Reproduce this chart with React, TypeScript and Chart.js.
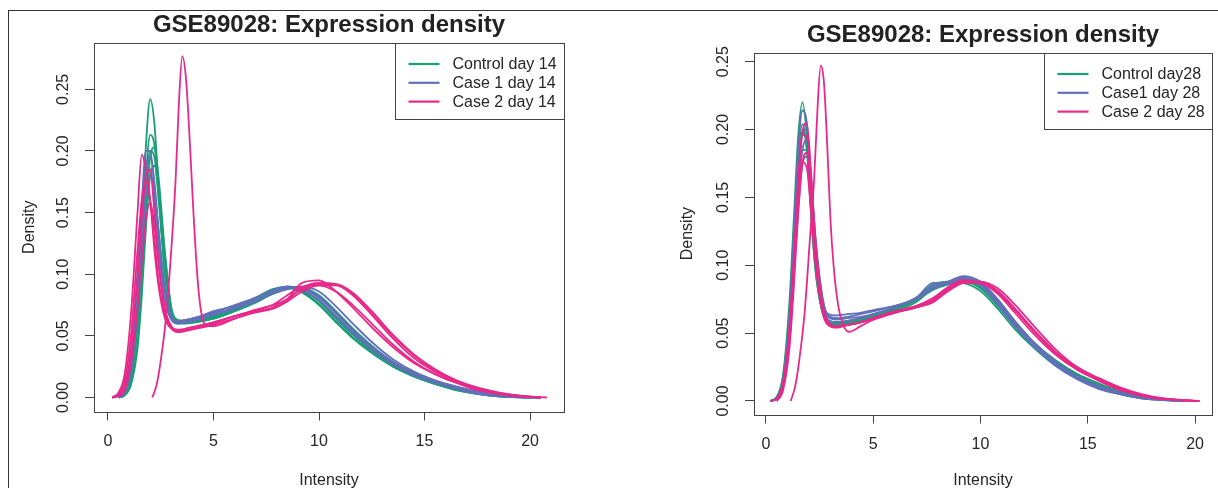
import React, { useEffect, useRef } from "react";
import { Chart, registerables } from "chart.js";

Chart.register(...registerables);

// ---------- text ----------
const TITLE = "GSE89028: Expression density";
const X_LABEL = "Intensity";
const Y_LABEL = "Density";
const LEGEND_14 = ["Control day 14", "Case 1 day 14", "Case 2 day 14"];
const LEGEND_28 = ["Control day28", "Case1 day 28", "Case 2 day 28"];

// ---------- ticks ----------
const X_TICKS = [0, 5, 10, 15, 20];
const Y_TICKS_14 = [0, 0.05, 0.1, 0.15, 0.2, 0.25];
const Y_TICKS_28 = [0, 0.05, 0.1, 0.15, 0.2, 0.25];

// ---------- group colours (Control, Case 1, Case 2) ----------
const COLORS = ["#1b9e77", "#6170b8", "#e7298a"];

// ---------- day 14 density curves (sampled at GRID_14) ----------
const GRID_14 = [0.2, 0.5, 0.8, 1.1, 1.4, 1.6, 1.8, 2.0, 2.2, 2.4, 2.7, 3.0, 3.3, 3.7, 4.2, 5.0, 6.0, 7.0, 7.8, 8.5, 9.2, 10.0, 10.8, 11.6, 12.5, 13.5, 14.5, 15.5, 16.5, 17.5, 18.5, 19.5, 20.5];

const CONTROL_14 = [
  [null, 0, 0.004, 0.022, 0.075, 0.135, 0.205, 0.242, 0.222, 0.170, 0.100, 0.066, 0.061, 0.061, 0.063, 0.066, 0.072, 0.079, 0.086, 0.089, 0.085, 0.075, 0.061, 0.048, 0.036, 0.025, 0.017, 0.011, 0.006, 0.003, 0.001, 0.0002, 0],
  [null, 0, 0.003, 0.018, 0.062, 0.115, 0.180, 0.213, 0.205, 0.168, 0.105, 0.068, 0.061, 0.061, 0.062, 0.065, 0.071, 0.078, 0.085, 0.089, 0.087, 0.078, 0.064, 0.051, 0.038, 0.027, 0.018, 0.012, 0.007, 0.0035, 0.0012, 0.0003, 0],
  [null, 0, 0.002, 0.012, 0.045, 0.090, 0.150, 0.195, 0.203, 0.178, 0.118, 0.072, 0.062, 0.062, 0.063, 0.066, 0.073, 0.081, 0.088, 0.090, 0.086, 0.076, 0.062, 0.049, 0.037, 0.026, 0.017, 0.011, 0.006, 0.003, 0.001, 0.0002, 0],
  [null, 0, 0.002, 0.011, 0.040, 0.082, 0.138, 0.180, 0.188, 0.168, 0.115, 0.073, 0.063, 0.062, 0.062, 0.064, 0.070, 0.077, 0.084, 0.088, 0.089, 0.083, 0.070, 0.056, 0.042, 0.029, 0.020, 0.013, 0.008, 0.004, 0.0015, 0.0004, 0],
  [null, 0, 0.003, 0.016, 0.058, 0.108, 0.170, 0.200, 0.195, 0.160, 0.100, 0.066, 0.060, 0.060, 0.061, 0.064, 0.070, 0.078, 0.086, 0.090, 0.087, 0.079, 0.066, 0.053, 0.040, 0.028, 0.019, 0.013, 0.008, 0.004, 0.0015, 0.0004, 0],
];

const CASE1_14 = [
  [0, 0.002, 0.008, 0.035, 0.100, 0.158, 0.200, 0.200, 0.170, 0.128, 0.080, 0.064, 0.062, 0.063, 0.065, 0.069, 0.075, 0.081, 0.087, 0.090, 0.087, 0.079, 0.065, 0.052, 0.039, 0.027, 0.018, 0.012, 0.007, 0.003, 0.001, 0.0002, 0],
  [0, 0.001, 0.006, 0.028, 0.085, 0.140, 0.185, 0.195, 0.175, 0.135, 0.085, 0.065, 0.062, 0.062, 0.064, 0.068, 0.073, 0.080, 0.087, 0.090, 0.089, 0.082, 0.069, 0.055, 0.041, 0.029, 0.019, 0.013, 0.008, 0.004, 0.0015, 0.0003, 0],
  [0, 0.002, 0.007, 0.032, 0.092, 0.145, 0.185, 0.185, 0.160, 0.122, 0.080, 0.063, 0.060, 0.061, 0.063, 0.067, 0.072, 0.078, 0.084, 0.088, 0.090, 0.086, 0.074, 0.060, 0.045, 0.031, 0.021, 0.014, 0.009, 0.005, 0.002, 0.0005, 0],
  [null, 0, 0.004, 0.022, 0.070, 0.120, 0.165, 0.180, 0.168, 0.135, 0.088, 0.066, 0.062, 0.063, 0.065, 0.070, 0.074, 0.080, 0.086, 0.089, 0.088, 0.081, 0.068, 0.054, 0.041, 0.028, 0.019, 0.013, 0.008, 0.004, 0.0015, 0.0003, 0],
];

const CASE2_14 = [
  [0, 0.004, 0.020, 0.070, 0.150, 0.197, 0.185, 0.160, 0.120, 0.090, 0.064, 0.056, 0.054, 0.055, 0.057, 0.061, 0.066, 0.071, 0.075, 0.080, 0.093, 0.095, 0.086, 0.073, 0.057, 0.041, 0.028, 0.019, 0.012, 0.007, 0.003, 0.001, 0],
  [0, 0.002, 0.010, 0.040, 0.100, 0.145, 0.180, 0.184, 0.150, 0.110, 0.070, 0.057, 0.054, 0.055, 0.056, 0.059, 0.064, 0.069, 0.072, 0.078, 0.086, 0.091, 0.091, 0.083, 0.067, 0.048, 0.032, 0.021, 0.013, 0.007, 0.003, 0.001, 0],
  [null, 0, 0.006, 0.028, 0.072, 0.110, 0.145, 0.158, 0.140, 0.108, 0.072, 0.058, 0.055, 0.056, 0.058, 0.061, 0.066, 0.070, 0.073, 0.080, 0.088, 0.092, 0.092, 0.085, 0.070, 0.051, 0.035, 0.023, 0.014, 0.008, 0.004, 0.0015, 0],
  [0, 0.003, 0.014, 0.052, 0.120, 0.160, 0.175, 0.160, 0.128, 0.095, 0.066, 0.056, 0.053, 0.054, 0.056, 0.060, 0.066, 0.071, 0.075, 0.083, 0.090, 0.091, 0.086, 0.075, 0.060, 0.043, 0.029, 0.019, 0.012, 0.006, 0.003, 0.001, 0],
];

// the shifted Case 2 sample of day 14
const CASE2_14_SHIFTED_X = [2.1, 2.3, 2.5, 2.75, 3.0, 3.2, 3.35, 3.52, 3.7, 3.9, 4.05, 4.25, 4.45, 4.7, 5.0, 6.0, 7.0, 7.8, 8.5, 9.2, 10.0, 10.8, 11.6, 12.5, 13.5, 14.5, 15.5, 16.5, 17.5, 18.5, 19.5, 20.5, 20.8];
const CASE2_14_SHIFTED_Y = [0, 0.01, 0.03, 0.065, 0.12, 0.175, 0.235, 0.277, 0.258, 0.2, 0.15, 0.095, 0.066, 0.058, 0.058, 0.064, 0.070, 0.072, 0.079, 0.089, 0.093, 0.092, 0.084, 0.068, 0.050, 0.034, 0.022, 0.014, 0.008, 0.004, 0.0015, 0.0003, 0];

// ---------- day 28 density curves (sampled at GRID_28) ----------
const GRID_28 = [0.2, 0.5, 0.8, 1.1, 1.3, 1.5, 1.7, 1.9, 2.1, 2.3, 2.6, 2.9, 3.3, 3.8, 4.4, 5.0, 6.0, 7.0, 7.8, 8.5, 9.2, 10.0, 10.8, 11.6, 12.5, 13.5, 14.5, 15.5, 16.5, 17.5, 18.5, 19.5, 20.2];

const CONTROL_28 = [
  [0, 0.003, 0.020, 0.075, 0.135, 0.195, 0.220, 0.195, 0.140, 0.098, 0.068, 0.058, 0.057, 0.058, 0.059, 0.061, 0.066, 0.073, 0.083, 0.087, 0.088, 0.083, 0.070, 0.055, 0.040, 0.027, 0.018, 0.011, 0.006, 0.003, 0.001, 0, null],
  [0, 0.002, 0.015, 0.060, 0.115, 0.170, 0.198, 0.188, 0.145, 0.102, 0.068, 0.058, 0.057, 0.058, 0.060, 0.062, 0.067, 0.074, 0.082, 0.086, 0.088, 0.084, 0.072, 0.057, 0.042, 0.029, 0.019, 0.012, 0.007, 0.003, 0.001, 0, null],
  [0, 0.002, 0.012, 0.050, 0.100, 0.155, 0.185, 0.185, 0.148, 0.105, 0.070, 0.059, 0.058, 0.059, 0.061, 0.063, 0.068, 0.075, 0.083, 0.088, 0.089, 0.085, 0.073, 0.058, 0.043, 0.030, 0.020, 0.013, 0.007, 0.003, 0.001, 0, null],
  [0, 0.003, 0.018, 0.068, 0.125, 0.180, 0.204, 0.185, 0.138, 0.097, 0.067, 0.057, 0.056, 0.057, 0.059, 0.062, 0.068, 0.076, 0.086, 0.088, 0.087, 0.081, 0.068, 0.053, 0.039, 0.026, 0.017, 0.010, 0.005, 0.002, 0.0007, 0, null],
];

const CASE1_28 = [
  [0, 0.002, 0.016, 0.065, 0.125, 0.185, 0.214, 0.205, 0.160, 0.115, 0.075, 0.064, 0.063, 0.064, 0.065, 0.067, 0.070, 0.076, 0.087, 0.086, 0.091, 0.086, 0.072, 0.056, 0.040, 0.027, 0.017, 0.010, 0.005, 0.002, 0.0008, 0, null],
  [0, 0.002, 0.013, 0.055, 0.110, 0.165, 0.198, 0.200, 0.165, 0.120, 0.078, 0.063, 0.061, 0.062, 0.064, 0.066, 0.070, 0.075, 0.085, 0.088, 0.092, 0.088, 0.075, 0.059, 0.043, 0.029, 0.018, 0.011, 0.006, 0.0025, 0.001, 0, null],
  [null, 0, 0.010, 0.045, 0.095, 0.150, 0.185, 0.193, 0.165, 0.122, 0.080, 0.062, 0.060, 0.061, 0.062, 0.064, 0.069, 0.075, 0.083, 0.087, 0.091, 0.087, 0.074, 0.058, 0.042, 0.028, 0.018, 0.011, 0.006, 0.0025, 0.001, 0, null],
  [null, 0, 0.010, 0.045, 0.092, 0.140, 0.175, 0.180, 0.155, 0.115, 0.076, 0.060, 0.058, 0.059, 0.061, 0.064, 0.069, 0.076, 0.084, 0.087, 0.090, 0.085, 0.071, 0.055, 0.040, 0.026, 0.016, 0.009, 0.005, 0.002, 0.0008, 0, null],
];

const CASE2_28 = [
  [null, 0, 0.010, 0.048, 0.100, 0.160, 0.198, 0.205, 0.168, 0.120, 0.075, 0.058, 0.055, 0.056, 0.058, 0.061, 0.066, 0.070, 0.076, 0.084, 0.088, 0.087, 0.079, 0.065, 0.049, 0.034, 0.023, 0.015, 0.008, 0.004, 0.0015, 0.0005, 0],
  [null, 0, 0.012, 0.052, 0.105, 0.162, 0.196, 0.195, 0.158, 0.112, 0.071, 0.056, 0.054, 0.056, 0.058, 0.060, 0.065, 0.069, 0.074, 0.083, 0.088, 0.088, 0.081, 0.068, 0.052, 0.036, 0.024, 0.016, 0.009, 0.004, 0.002, 0.0005, 0],
  [null, 0, 0.008, 0.040, 0.085, 0.138, 0.175, 0.183, 0.155, 0.112, 0.072, 0.057, 0.055, 0.056, 0.058, 0.061, 0.066, 0.069, 0.073, 0.081, 0.087, 0.088, 0.083, 0.071, 0.055, 0.038, 0.025, 0.017, 0.010, 0.005, 0.002, 0.0007, 0],
  [0, 0.002, 0.014, 0.055, 0.105, 0.150, 0.176, 0.172, 0.140, 0.102, 0.068, 0.056, 0.055, 0.056, 0.058, 0.061, 0.066, 0.070, 0.075, 0.084, 0.089, 0.087, 0.080, 0.067, 0.051, 0.035, 0.024, 0.016, 0.009, 0.004, 0.0015, 0.0005, 0],
];

const CASE2_28_SHIFTED_X = [1.15, 1.35, 1.55, 1.8, 2.05, 2.25, 2.4, 2.55, 2.7, 2.85, 3.0, 3.15, 3.35, 3.6, 3.87, 4.4, 5.0, 6.0, 7.0, 7.8, 8.5, 9.2, 10.0, 10.8, 11.6, 12.5, 13.5, 14.5, 15.5, 16.5, 17.5, 18.5, 19.5, 20.2];
const CASE2_28_SHIFTED_Y = [0, 0.01, 0.03, 0.065, 0.12, 0.165, 0.215, 0.247, 0.235, 0.19, 0.135, 0.1, 0.072, 0.056, 0.051, 0.055, 0.060, 0.065, 0.069, 0.073, 0.082, 0.087, 0.087, 0.081, 0.068, 0.052, 0.036, 0.025, 0.016, 0.009, 0.004, 0.0015, 0.0005, 0];

// ---------- styling ----------
const FONT = "'Liberation Sans', Arial, Helvetica, sans-serif";
const TEXT = "#262626";
const AXIS = "#444444";

type Ys = (number | null)[];

function toPoints(xs: number[], ys: Ys) {
  const pts: { x: number; y: number }[] = [];
  xs.forEach((x, i) => {
    const y = ys[i];
    if (y !== null && y !== undefined) pts.push({ x, y });
  });
  return pts;
}

const boxPlugin = {
  id: "rbox",
  afterDraw(chart: any) {
    const { ctx, chartArea: a } = chart;
    ctx.save();
    ctx.strokeStyle = AXIS;
    ctx.lineWidth = 1;
    ctx.strokeRect(Math.round(a.left) + 0.5, Math.round(a.top) + 0.5, Math.round(a.right - a.left), Math.round(a.bottom - a.top));
    ctx.restore();
  },
};

const legendPlugin = {
  id: "rlegend",
  afterDraw(chart: any, _args: any, opts: any) {
    const { ctx, chartArea: a } = chart;
    const labels: string[] = opts.labels || [];
    ctx.save();
    ctx.font = `16px ${FONT}`;
    const maxW = Math.max(...labels.map((l) => ctx.measureText(l).width));
    const w = Math.round(maxW + 65);
    const h = 76;
    const left = Math.round(a.right) - w + 0.5;
    const top = Math.round(a.top) + 0.5;
    ctx.fillStyle = "#ffffff";
    ctx.fillRect(left, top, w, h);
    ctx.strokeStyle = AXIS;
    ctx.lineWidth = 1;
    ctx.strokeRect(left, top, w, h);
    labels.forEach((l, i) => {
      const y = top + 20.5 + i * 18.8;
      ctx.strokeStyle = COLORS[i];
      ctx.lineWidth = 2.2;
      ctx.beginPath();
      ctx.moveTo(left + 13, y);
      ctx.lineTo(left + 44, y);
      ctx.stroke();
      ctx.fillStyle = TEXT;
      ctx.textAlign = "left";
      ctx.textBaseline = "middle";
      ctx.fillText(l, left + 57, y + 0.5);
    });
    ctx.restore();
  },
};

type PanelCfg = {
  grid: number[];
  groups: Ys[][];
  shiftedX: number[];
  shiftedY: Ys;
  legend: string[];
  yTicks: number[];
  xMin: number; xMax: number; yMin: number; yMax: number;
  left: number; w: number; h: number;
  padRight: number; yAxisW: number; xAxisH: number;
  titleTop: number; titleBottom: number; yTitlePad: number;
};

const PANEL_14: PanelCfg = {
  grid: GRID_14,
  groups: [CONTROL_14, CASE1_14, CASE2_14],
  shiftedX: CASE2_14_SHIFTED_X,
  shiftedY: CASE2_14_SHIFTED_Y,
  legend: LEGEND_14,
  yTicks: Y_TICKS_14,
  xMin: -0.663, xMax: 21.61, yMin: -0.01136, yMax: 0.2876,
  left: 0, w: 609, h: 490,
  padRight: 45, yAxisW: 94, xAxisH: 78.5,
  titleTop: 10.6, titleBottom: 3.6, yTitlePad: 20.4,
};

const PANEL_28: PanelCfg = {
  grid: GRID_28,
  groups: [CONTROL_28, CASE1_28, CASE2_28],
  shiftedX: CASE2_28_SHIFTED_X,
  shiftedY: CASE2_28_SHIFTED_Y,
  legend: LEGEND_28,
  yTicks: Y_TICKS_28,
  xMin: -0.559, xMax: 20.79, yMin: -0.00995, yMax: 0.2566,
  left: 609, w: 609, h: 490,
  padRight: 6, yAxisW: 145, xAxisH: 75.5,
  titleTop: 20.6, titleBottom: 3.3, yTitlePad: 69.4,
};

function makeConfig(cfg: PanelCfg): any {
  const lineStyle = (color: string) => ({
    borderColor: color,
    backgroundColor: color,
    borderWidth: 1.8,
    pointRadius: 0,
    fill: false,
    cubicInterpolationMode: "monotone",
  });
  // Chart.js paints dataset 0 last (on top); R painted Control first, Case 2 last,
  // so the list is built Case 2 first.
  const datasets: any[] = [];
  datasets.push({ data: toPoints(cfg.shiftedX, cfg.shiftedY), ...lineStyle(COLORS[2]) });
  for (let g = cfg.groups.length - 1; g >= 0; g--) {
    const curves = cfg.groups[g];
    for (let c = curves.length - 1; c >= 0; c--) {
      datasets.push({ data: toPoints(cfg.grid, curves[c]), ...lineStyle(COLORS[g]) });
    }
  }

  const tickFont = { family: FONT, size: 16 };
  const gridOpts = {
    display: true,
    drawOnChartArea: false,
    drawTicks: true,
    tickLength: 9,
    color: AXIS,
    lineWidth: 1,
  };

  return {
    type: "line",
    data: { datasets },
    plugins: [boxPlugin, legendPlugin],
    options: {
      animation: false,
      responsive: false,
      events: [],
      layout: { padding: { left: 0, right: cfg.padRight, top: 0, bottom: 0 } },
      plugins: {
        legend: { display: false },
        tooltip: { enabled: false },
        title: {
          display: true,
          text: TITLE,
          fullSize: false,
          color: "#222222",
          font: { family: FONT, size: 24, weight: "bold", lineHeight: 1.2 },
          padding: { top: cfg.titleTop, bottom: cfg.titleBottom },
        },
        rlegend: { labels: cfg.legend },
      },
      scales: {
        x: {
          type: "linear",
          min: cfg.xMin,
          max: cfg.xMax,
          afterBuildTicks: (s: any) => { s.ticks = X_TICKS.map((v) => ({ value: v })); },
          afterFit: (s: any) => { s.height = cfg.xAxisH; },
          grid: gridOpts,
          border: { display: false },
          ticks: {
            autoSkip: false, maxRotation: 0, minRotation: 0, padding: 11.4,
            font: tickFont, color: TEXT,
            callback: (v: any) => String(v),
          },
          title: {
            display: true, text: X_LABEL, color: TEXT,
            font: { family: FONT, size: 16, lineHeight: 1.2 },
            padding: { top: 0, bottom: 0 },
          },
        },
        y: {
          type: "linear",
          min: cfg.yMin,
          max: cfg.yMax,
          afterBuildTicks: (s: any) => { s.ticks = cfg.yTicks.map((v) => ({ value: v })); },
          afterFit: (s: any) => { s.width = cfg.yAxisW; },
          grid: gridOpts,
          border: { display: false },
          ticks: {
            autoSkip: false, minRotation: 90, maxRotation: 90, crossAlign: "center", padding: 5.4,
            font: tickFont, color: TEXT,
            callback: (v: any) => Number(v).toFixed(2),
          },
          title: {
            display: true, text: Y_LABEL, color: TEXT,
            font: { family: FONT, size: 16, lineHeight: 1.2 },
            padding: { top: cfg.yTitlePad, bottom: 0 },
          },
        },
      },
    },
  };
}

function Panel({ cfg }: { cfg: PanelCfg }) {
  const ref = useRef<HTMLCanvasElement>(null);
  useEffect(() => {
    const chart = new Chart(ref.current as HTMLCanvasElement, makeConfig(cfg));
    return () => chart.destroy();
  }, [cfg]);
  return (
    <canvas
      ref={ref}
      width={cfg.w}
      height={cfg.h}
      style={{ position: "absolute", left: cfg.left, top: 0, width: cfg.w, height: cfg.h }}
    />
  );
}

export default function App() {
  return (
    <div style={{ position: "fixed", left: 0, top: 0, width: 1218, height: 488, overflow: "hidden", background: "#ffffff" }}>
      <div
        style={{
          position: "absolute", left: 8, top: 10, width: 1220, height: 490,
          borderLeft: "1.5px solid #333333", borderTop: "1.5px solid #333333", boxSizing: "border-box",
        }}
      />
      <Panel cfg={PANEL_14} />
      <Panel cfg={PANEL_28} />
    </div>
  );
}
